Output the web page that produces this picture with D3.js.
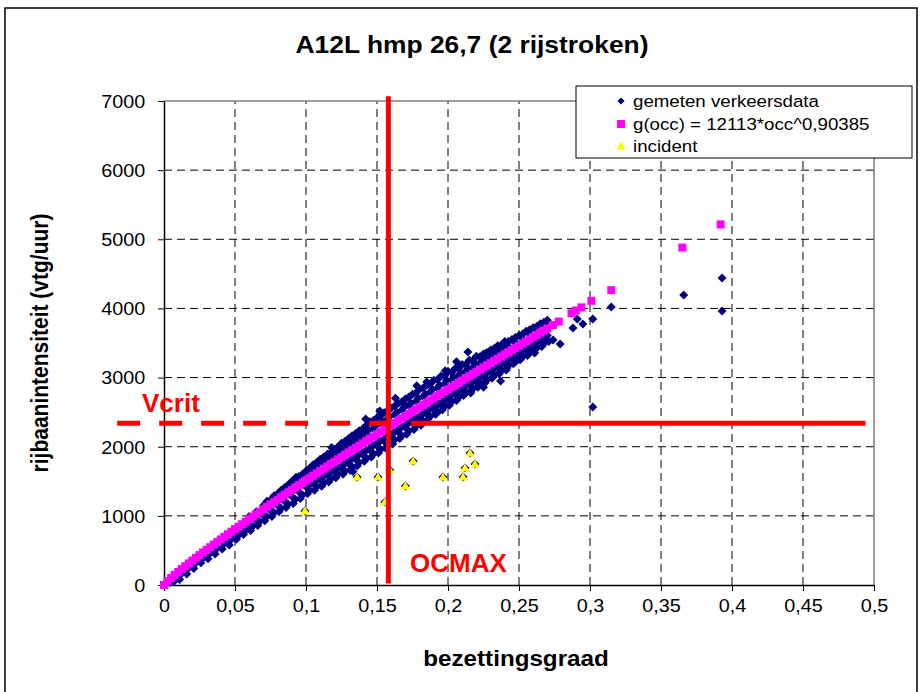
<html>
<head>
  <title>A12L hmp 26,7</title>
  <script src="https://d3js.org/d3.v7.min.js"></script>
</head>
<style>
  body { margin: 0; background: #fff; }
  text { font-family: "Liberation Sans", Arial, sans-serif; }
</style>
<body>
<svg width="923" height="692"></svg>
<script>

  // gemeten verkeersdata [bezettingsgraad, intensiteit]
  const measured = [
    [0.002,20],[0.004,40],[0.005,60],[0.007,50],
    [0.010,120],[0.011,80],[0.015,200],[0.016,160],
    [0.020,280],[0.021,240],[0.025,360],[0.026,320],
    [0.030,430],[0.031,380],[0.035,510],[0.036,450],
    [0.040,580],[0.041,520],[0.045,650],[0.046,580],
    [0.050,730],[0.051,660],[0.055,800],[0.056,730],
    [0.060,990],[0.060,870],[0.061,790],[0.065,1060],[0.065,940],[0.066,860],
    [0.070,1150],[0.070,1010],[0.071,930],[0.075,1230],[0.075,1080],[0.076,990],
    [0.080,1320],[0.080,1150],[0.081,1060],[0.085,1410],[0.085,1210],[0.086,1120],
    [0.090,1500],[0.090,1280],[0.091,1180],[0.095,1570],[0.095,1350],[0.096,1250],
    [0.100,1650],[0.100,1420],[0.101,1320],[0.102,1580],
    [0.105,1740],[0.105,1470],[0.106,1370],[0.104,1660],
    [0.110,1820],[0.110,1540],[0.111,1430],[0.109,1730],
    [0.115,1890],[0.115,1600],[0.116,1490],[0.114,1800],
    [0.120,1960],[0.120,1660],[0.121,1550],[0.119,1870],
    [0.125,2050],[0.125,1720],[0.126,1600],[0.124,1950],
    [0.130,2120],[0.130,1790],[0.131,1660],[0.129,2020],
    [0.135,2190],[0.135,1850],[0.136,1720],[0.134,2090],
    [0.140,2260],[0.140,1920],[0.141,1790],[0.139,2150],
    [0.145,2360],[0.145,1980],[0.146,1850],[0.144,2240],
    [0.150,2420],[0.150,2050],[0.151,1910],[0.149,2300],[0.152,2517],
    [0.155,2490],[0.155,2110],[0.156,1980],[0.154,2370],
    [0.160,2560],[0.160,2180],[0.161,2040],[0.159,2440],
    [0.165,2630],[0.165,2250],[0.166,2120],[0.164,2500],
    [0.170,2690],[0.170,2310],[0.171,2180],[0.169,2570],[0.170,2603],
    [0.175,2760],[0.175,2380],[0.176,2250],[0.174,2630],
    [0.180,2830],[0.180,2440],[0.181,2310],[0.179,2700],
    [0.185,2890],[0.185,2520],[0.186,2400],[0.184,2760],[0.185,2936],
    [0.190,2960],[0.190,2590],[0.191,2470],[0.189,2830],
    [0.195,3020],[0.195,2650],[0.196,2530],[0.194,2890],
    [0.200,3090],[0.200,2720],[0.201,2600],[0.199,2960],
    [0.205,3130],[0.205,2780],[0.206,2670],[0.204,3010],
    [0.210,3190],[0.210,2850],[0.211,2740],[0.209,3070],
    [0.215,3250],[0.215,2910],[0.216,2800],[0.214,3130],
    [0.220,3310],[0.220,2970],[0.221,2860],[0.219,3200],
    [0.225,3340],[0.225,3040],[0.226,2920],[0.224,3240],
    [0.230,3400],[0.230,3100],[0.231,2990],[0.229,3300],
    [0.235,3460],[0.235,3160],[0.236,3050],[0.234,3370],
    [0.240,3520],[0.240,3230],[0.241,3110],[0.239,3430],
    [0.245,3550],[0.245,3300],[0.246,3200],
    [0.250,3610],[0.250,3360],[0.251,3260],
    [0.255,3670],[0.255,3420],[0.256,3320],
    [0.260,3720],[0.260,3490],[0.261,3390],
    [0.265,3780],[0.265,3550],[0.266,3450],
    [0.270,3830],[0.270,3610],[0.271,3520],
    // tussenliggende metingen
    [0.0125,170],[0.0175,250],[0.0225,320],[0.0275,390],[0.0325,460],
    [0.0375,530],[0.0425,600],[0.0475,660],[0.0525,720],[0.0575,790],
    [0.0625,850],[0.0675,920],[0.0725,990],[0.0775,1050],[0.0825,1110],
    [0.0875,1170],[0.0925,1240],[0.0975,1300],
    [0.0725,1210],[0.0775,1290],[0.0825,1370],[0.0875,1450],[0.0925,1520],[0.0975,1600],
    [0.1025,1370],[0.1025,1690],[0.1025,1450],[0.1075,1420],[0.1075,1770],[0.1075,1510],
    [0.1125,1480],[0.1125,1850],[0.1125,1580],[0.1175,1540],[0.1175,1920],[0.1175,1640],
    [0.1225,1600],[0.1225,2000],[0.1225,1700],[0.1275,1650],[0.1275,2080],[0.1275,1760],
    [0.1325,1710],[0.1325,2160],[0.1325,1830],[0.1375,1770],[0.1375,2230],[0.1375,1890],
    [0.1425,1830],[0.1425,2310],[0.1425,1950],[0.1475,1900],[0.1475,2380],[0.1475,2020],
    [0.1525,1960],[0.1525,2450],[0.1525,2090],[0.1575,2030],[0.1575,2520],[0.1575,2150],
    [0.1625,2100],[0.1625,2590],[0.1625,2220],[0.1675,2160],[0.1675,2650],[0.1675,2290],
    [0.1725,2230],[0.1725,2720],[0.1725,2350],[0.1775,2300],[0.1775,2780],[0.1775,2420],
    [0.1825,2370],[0.1825,2850],[0.1825,2480],[0.1875,2440],[0.1875,2910],[0.1875,2550],
    [0.1925,2510],[0.1925,2970],[0.1925,2610],[0.1975,2580],[0.1975,3030],[0.1975,2680],
    [0.2025,2650],[0.2025,3070],[0.2025,2750],[0.2075,2710],[0.2075,3130],[0.2075,2810],
    [0.2125,2780],[0.2125,3190],[0.2125,2880],[0.2175,2840],[0.2175,3250],[0.2175,2940],
    [0.2225,2910],[0.2225,3300],[0.2225,3000],[0.2275,2970],[0.2275,3360],[0.2275,3070],
    [0.2325,3040],[0.2325,3420],[0.2325,3130],[0.2375,3100],[0.2375,3470],[0.2375,3190],
    [0.2425,3170],[0.2425,3520],[0.2425,3260],[0.2475,3230],[0.2475,3580],[0.2475,3320],
    [0.2525,3300],[0.2525,3630],[0.2525,3380],[0.2575,3360],[0.2575,3690],[0.2575,3440],
    [0.2625,3430],[0.2625,3740],[0.2625,3510],[0.2675,3490],[0.2675,3800],[0.2675,3570],
    [0.1025,1620],[0.1075,1690],[0.1125,1765],[0.1175,1835],[0.1225,1905],[0.1275,1985],
    [0.1325,2055],[0.1375,2120],[0.1425,2195],[0.1475,2265],[0.1525,2335],[0.1575,2400],
    [0.1625,2465],[0.1675,2530],[0.1725,2595],[0.1775,2660],[0.1825,2725],[0.1875,2790],
    [0.1925,2850],[0.1975,2910],[0.2025,2965],[0.2075,3030],[0.2125,3090],[0.2175,3150],
    [0.2225,3210],[0.2275,3270],[0.2325,3330],[0.2375,3390],[0.2425,3445],[0.2475,3505],
    [0.2525,3560],[0.2575,3625],[0.2625,3675],[0.2675,3740],
    [0.1115,1452],[0.1165,1520],[0.1215,1587],[0.1265,1654],[0.1315,1721],[0.1365,1787],
    [0.1415,1854],[0.1465,1920],[0.1515,1986],[0.1565,2051],[0.1615,2117],[0.1665,2182],
    [0.1715,2247],[0.1765,2312],[0.1815,2376],[0.1865,2441],[0.1915,2505],[0.1965,2569],
    [0.2015,2633],[0.2065,2697],[0.2115,2761],[0.2165,2824],[0.2215,2888],[0.2265,2951],
    [0.2315,3014],[0.2365,3077],[0.2415,3140],
    // losse punten
    [0.093,1560],[0.118,1990],[0.142,2400],[0.133,1640],[0.178,2880],[0.192,2480],
    [0.206,3230],[0.225,2860],[0.198,3100],[0.163,2700],
    [0.214,3370],[0.227,3355],[0.237,2950],[0.216,2777],[0.232,3138],
    [0.247,3269],[0.261,3355],[0.268,3775],[0.267,3500],[0.268,3558],
    [0.274,3543],[0.279,3485],[0.288,3717],[0.291,3847],[0.295,3775],
    [0.302,3847],[0.302,2574],[0.315,4021],[0.366,4194],[0.393,4440],[0.393,3963],
    // incidenten horen ook bij de metingen
    [0.2155,1909],[0.219,1750],[0.212,1692],[0.2106,1562],[0.1965,1562],[0.1754,1793],
    [0.170,1432],[0.159,1663],[0.1507,1562],[0.1359,1562],[0.1556,1200],[0.0993,1070]
  ];

  // g(occ) = 12113*occ^0,90385
  const fitted = [
    [0,0],[0.0025,54],[0.005,101],[0.0075,145],[0.010,189],[0.0125,231],[0.015,272],
    [0.0175,313],[0.020,353],[0.0225,393],[0.025,432],[0.0275,471],[0.030,509],
    [0.0325,547],[0.035,585],[0.0375,623],[0.040,660],[0.0425,697],[0.045,734],
    [0.0475,771],[0.050,808],[0.0525,844],[0.055,880],[0.0575,916],[0.060,952],
    [0.0625,988],[0.065,1024],[0.0675,1060],[0.070,1095],[0.0725,1130],[0.075,1165],
    [0.0775,1200],[0.080,1235],[0.0825,1270],[0.085,1305],[0.0875,1340],[0.090,1374],
    [0.0925,1409],[0.095,1443],[0.0975,1477],[0.100,1511],[0.1025,1546],[0.105,1580],
    [0.1075,1614],[0.110,1647],[0.1125,1681],[0.115,1715],[0.1175,1749],[0.120,1782],
    [0.1225,1816],[0.125,1849],[0.1275,1883],[0.130,1916],[0.1325,1949],[0.135,1982],
    [0.1375,2016],[0.140,2049],[0.1425,2082],[0.145,2115],[0.1475,2148],[0.150,2181],
    [0.1525,2214],[0.155,2246],[0.1575,2279],[0.160,2312],[0.1625,2345],[0.165,2377],
    [0.1675,2410],[0.170,2442],[0.1725,2475],[0.175,2507],[0.1775,2539],[0.180,2571],
    [0.1825,2604],[0.185,2636],[0.1875,2668],[0.190,2700],[0.1925,2732],[0.195,2764],
    [0.1975,2796],[0.200,2828],[0.2025,2860],[0.205,2892],[0.2075,2924],[0.210,2956],
    [0.2125,2988],[0.215,3019],[0.2175,3051],[0.220,3083],[0.2225,3115],[0.225,3146],
    [0.2275,3178],[0.230,3209],[0.2325,3241],[0.235,3272],[0.2375,3304],[0.240,3335],
    [0.2425,3367],[0.245,3398],[0.2475,3429],[0.250,3460],[0.2525,3492],[0.255,3523],
    [0.2575,3554],[0.260,3585],[0.2625,3617],[0.265,3648],[0.2675,3679],[0.270,3710],
    [0.274,3760],[0.278,3810],[0.287,3930],[0.290,3970],[0.294,4015],[0.301,4110],
    [0.315,4265],[0.365,4880],[0.392,5215]
  ];

  const incidents = [
    [0.2155,1909],[0.219,1750],[0.212,1692],[0.2106,1562],[0.1965,1562],[0.1754,1793],
    [0.170,1432],[0.159,1663],[0.1507,1562],[0.1359,1562],[0.1556,1200],[0.0993,1070]
  ];

  const xTicks = [0, 0.05, 0.1, 0.15, 0.2, 0.25, 0.3, 0.35, 0.4, 0.45, 0.5];
  const xTickLabels = ["0", "0,05", "0,1", "0,15", "0,2", "0,25", "0,3", "0,35", "0,4", "0,45", "0,5"];
  const yTicks = [0, 1000, 2000, 3000, 4000, 5000, 6000, 7000];
  const yTickLabels = ["0", "1000", "2000", "3000", "4000", "5000", "6000", "7000"];
  const legendLabels = ["gemeten verkeersdata", "g(occ) = 12113*occ^0,90385", "incident"];

  const ocmax = 0.158;
  const vcrit = 2340;

  let svg = d3.select("svg");

  let xScale = d3.scaleLinear().domain([0, 0.5]).range([164, 874]);
  let yScale = d3.scaleLinear().domain([0, 7000]).range([585, 101]);

  // outer chart border
  svg.append("rect")
    .attr("x", 5).attr("y", 8).attr("width", 912).attr("height", 690)
    .attr("fill", "white").attr("stroke", "black").attr("stroke-width", 1.5);

  // title
  svg.append("text")
    .attr("transform", "translate(472,53) scale(1.1,1)")
    .attr("text-anchor", "middle")
    .style("font-size", "24px").style("font-weight", "bold")
    .text("A12L hmp 26,7 (2 rijstroken)");

  // gridlines
  let grid = svg.append("g");
  grid.selectAll(".hgrid")
    .data(yTicks.slice(1, -1)).enter().append("line")
    .attr("x1", xScale(0)).attr("x2", xScale(0.5))
    .attr("y1", d => yScale(d)).attr("y2", d => yScale(d))
    .attr("stroke", "black").attr("stroke-dasharray", "8,5");
  grid.selectAll(".vgrid")
    .data(xTicks.slice(1, -1)).enter().append("line")
    .attr("x1", d => xScale(d)).attr("x2", d => xScale(d))
    .attr("y1", yScale(0)).attr("y2", yScale(7000))
    .attr("stroke", "black").attr("stroke-dasharray", "8,5");

  // plot area border top / right
  svg.append("path")
    .attr("d", "M" + xScale(0) + "," + yScale(7000) + "H" + xScale(0.5) + "V" + yScale(0))
    .attr("fill", "none").attr("stroke", "#808080").attr("stroke-width", 1.5);

  // axes
  let xAxis = svg.append("g")
    .attr("transform", "translate(0," + yScale(0) + ")")
    .call(d3.axisBottom(xScale).tickValues(xTicks).tickSize(6).tickSizeOuter(0)
      .tickFormat((d, i) => xTickLabels[i]));
  xAxis.select(".domain").attr("stroke-width", 1.5);
  xAxis.selectAll("text")
    .attr("y", 27).attr("dy", 0)
    .attr("transform", "scale(1.1,1)")
    .style("font-size", "18px").attr("fill", "black");

  let yAxis = svg.append("g")
    .attr("transform", "translate(" + xScale(0) + ",0)")
    .call(d3.axisLeft(yScale).tickValues(yTicks).tickSize(6).tickSizeOuter(0)
      .tickFormat((d, i) => yTickLabels[i]));
  yAxis.select(".domain").attr("stroke-width", 1.5);
  yAxis.selectAll("text")
    .attr("x", -17).attr("dy", "0.35em")
    .attr("transform", "scale(1.1,1)")
    .style("font-size", "18px").attr("fill", "black");

  // axis titles
  svg.append("text")
    .attr("transform", "translate(516,666) scale(1.1,1)")
    .attr("text-anchor", "middle")
    .style("font-size", "22px").style("font-weight", "bold")
    .text("bezettingsgraad");
  svg.append("text")
    .attr("transform", "translate(48,343) rotate(-90) scale(1,1.1)")
    .attr("text-anchor", "middle")
    .style("font-size", "21px").style("font-weight", "bold")
    .text("rijbaanintensiteit (vtg/uur)");

  const diamond = "M0,-4.5L4.5,0L0,4.5L-4.5,0Z";
  const triangle = "M0,-4.5L4.8,3.5L-4.8,3.5Z";

  let g = svg.append("g");

  g.selectAll(".meas")
    .data(measured).enter().append("path")
    .attr("d", diamond)
    .attr("transform", d => "translate(" + xScale(d[0]) + "," + yScale(d[1]) + ")")
    .attr("fill", "#000080");

  g.selectAll(".fit")
    .data(fitted).enter().append("rect")
    .attr("x", d => xScale(d[0]) - 4)
    .attr("y", d => yScale(d[1]) - 4)
    .attr("width", 8).attr("height", 8)
    .attr("fill", "#FF00FF");

  g.selectAll(".inc")
    .data(incidents).enter().append("path")
    .attr("d", triangle)
    .attr("transform", d => "translate(" + xScale(d[0]) + "," + yScale(d[1]) + ")")
    .attr("fill", "#FFFF00");

  // red critical lines
  let red = svg.append("g");
  red.append("line")
    .attr("x1", xScale(ocmax)).attr("x2", xScale(ocmax))
    .attr("y1", yScale(7070)).attr("y2", yScale(20))
    .attr("stroke", "#FF0000").attr("stroke-width", 5);
  red.append("line")
    .attr("x1", xScale(-0.033)).attr("x2", xScale(ocmax))
    .attr("y1", yScale(vcrit)).attr("y2", yScale(vcrit))
    .attr("stroke", "#FF0000").attr("stroke-width", 5)
    .attr("stroke-dasharray", "23,19");
  red.append("line")
    .attr("x1", xScale(0.174)).attr("x2", xScale(0.494))
    .attr("y1", yScale(vcrit)).attr("y2", yScale(vcrit))
    .attr("stroke", "#FF0000").attr("stroke-width", 5);

  red.append("text")
    .attr("x", 142).attr("y", 412)
    .attr("fill", "#FF0000")
    .style("font-size", "26px").style("font-weight", "bold")
    .text("Vcrit");
  red.append("text")
    .attr("x", 410).attr("y", 572)
    .attr("fill", "#FF0000")
    .style("font-size", "26px").style("font-weight", "bold")
    .text("OCMAX");

  // legend
  let legend = svg.append("g");
  legend.append("rect")
    .attr("x", 576).attr("y", 86).attr("width", 336).attr("height", 72)
    .attr("fill", "white").attr("stroke", "black").attr("stroke-width", 1);
  let rows = [101, 124, 146];
  legend.append("path").attr("d", diamond)
    .attr("transform", "translate(621," + rows[0] + ") scale(0.8)").attr("fill", "#000080");
  legend.append("rect")
    .attr("x", 617).attr("y", rows[1] - 4).attr("width", 8).attr("height", 8)
    .attr("fill", "#FF00FF");
  legend.append("path").attr("d", triangle)
    .attr("transform", "translate(621," + rows[2] + ")").attr("fill", "#FFFF00");
  legendLabels.forEach(function (t, i) {
    legend.append("text")
      .attr("transform", "translate(633," + (rows[i] + 6) + ") scale(1.1,1)")
      .style("font-size", "17px")
      .text(t);
  });

</script>
</body>
</html>
